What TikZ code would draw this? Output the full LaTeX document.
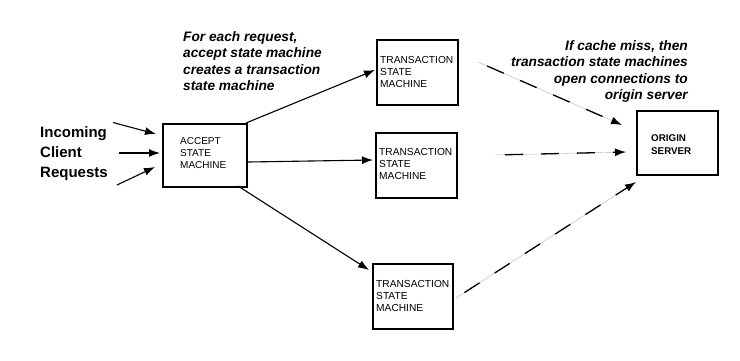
\documentclass[tikz,border=0pt]{standalone}
\usepackage{fontspec}
\setmainfont{Liberation Sans}
\usetikzlibrary{arrows.meta}
\begin{document}
\begin{tikzpicture}[x=1pt,y=-1pt,
  box/.style={draw,line width=1.6pt,anchor=north west,inner sep=0pt},
  boxtxt/.style={font=\fontsize{10.2}{12}\selectfont,align=left,anchor=north west,inner sep=0pt},
  arr/.style={line width=1.1pt,-{Latex[length=11pt,width=8pt]}},
  dsh/.style={line width=0.4pt,draw=gray!60},
  dshb/.style={line width=1.3pt,dash pattern=on 18pt off 18pt,-{Latex[length=11pt,width=8pt]}},
  note/.style={font=\fontsize{13.7}{16.5}\selectfont\bfseries\itshape,inner sep=0pt}]
\useasboundingbox (0,0) rectangle (740,360);
% boxes
\node[box,minimum width=84pt,minimum height=63pt] (acc) at (162,123) {};
\node[box,minimum width=81pt,minimum height=65pt] (t1) at (376,39) {};
\node[box,minimum width=81pt,minimum height=65pt] (t2) at (375,132) {};
\node[box,minimum width=80pt,minimum height=65pt] (t3) at (372,263) {};
\node[box,minimum width=81pt,minimum height=64pt] (org) at (636,110) {};
\node[font=\fontsize{10}{12.2}\selectfont,align=left,anchor=north west,inner sep=0pt] (acct) at (180,137) {ACCEPT\\STATE\\MACHINE};
\node[boxtxt] (t1t) at (380,56) {TRANSACTION\\STATE\\MACHINE};
\node[boxtxt] (t2t) at (379,148.5) {TRANSACTION\\STATE\\MACHINE};
\node[boxtxt] (t3t) at (376,280) {TRANSACTION\\STATE\\MACHINE};
\node[font=\fontsize{9.8}{13.5}\selectfont\bfseries,align=left,anchor=north west,inner sep=0pt] (orgt) at (651,134) {ORIGIN\\SERVER};
% incoming
\node[font=\fontsize{15}{20}\selectfont\bfseries,align=left,anchor=north west,inner sep=0pt] (inc) at (40,126.5) {Incoming\\Client\\Requests};
\coordinate (i1) at (113,122.5);
\coordinate (i2) at (119,153);
\coordinate (i3) at (117,185);
\coordinate (i1e) at (156,134);
\coordinate (i2e) at (160,153);
\coordinate (i3e) at (155,167);
\draw[arr] (i1) -- (i1e);
\draw[arr] (i2) -- (i2e);
\draw[arr] (i3) -- (i3e);
% accept to transactions
\coordinate (a1) at (246,123);
\coordinate (a2) at (248,162);
\coordinate (a3) at (238,186);
\coordinate (b1) at (375,70);
\coordinate (b2) at (373,160);
\coordinate (b3) at (369,270);
\draw[arr] (a1) -- (b1);
\draw[arr] (a2) -- (b2);
\draw[arr] (a3) -- (b3);
% dashed to origin
\coordinate (c1) at (478,62);
\coordinate (c2) at (495,155);
\coordinate (c3) at (456,298);
\coordinate (d1) at (622,125);
\coordinate (d2) at (626,152);
\coordinate (d3) at (636,182);
\draw[dsh] (c1) -- (d1);
\draw[dsh] (c2) -- (d2);
\draw[dsh] (c3) -- (d3);
\draw[dshb,dash phase=-10pt] (c1) -- (d1);
\draw[dshb,dash phase=-10pt] (c2) -- (d2);
\draw[dshb,dash phase=-10pt] (c3) -- (d3);
% notes
\node[note,align=left,anchor=north west] (n1) at (183,31) {For each request,\\accept state machine\\creates a transaction\\state machine};
\node[note,align=right,anchor=north east] (n2) at (688,40) {If cache miss, then\\transaction state machines\\open connections to\\origin server};
\end{tikzpicture}
\end{document}
